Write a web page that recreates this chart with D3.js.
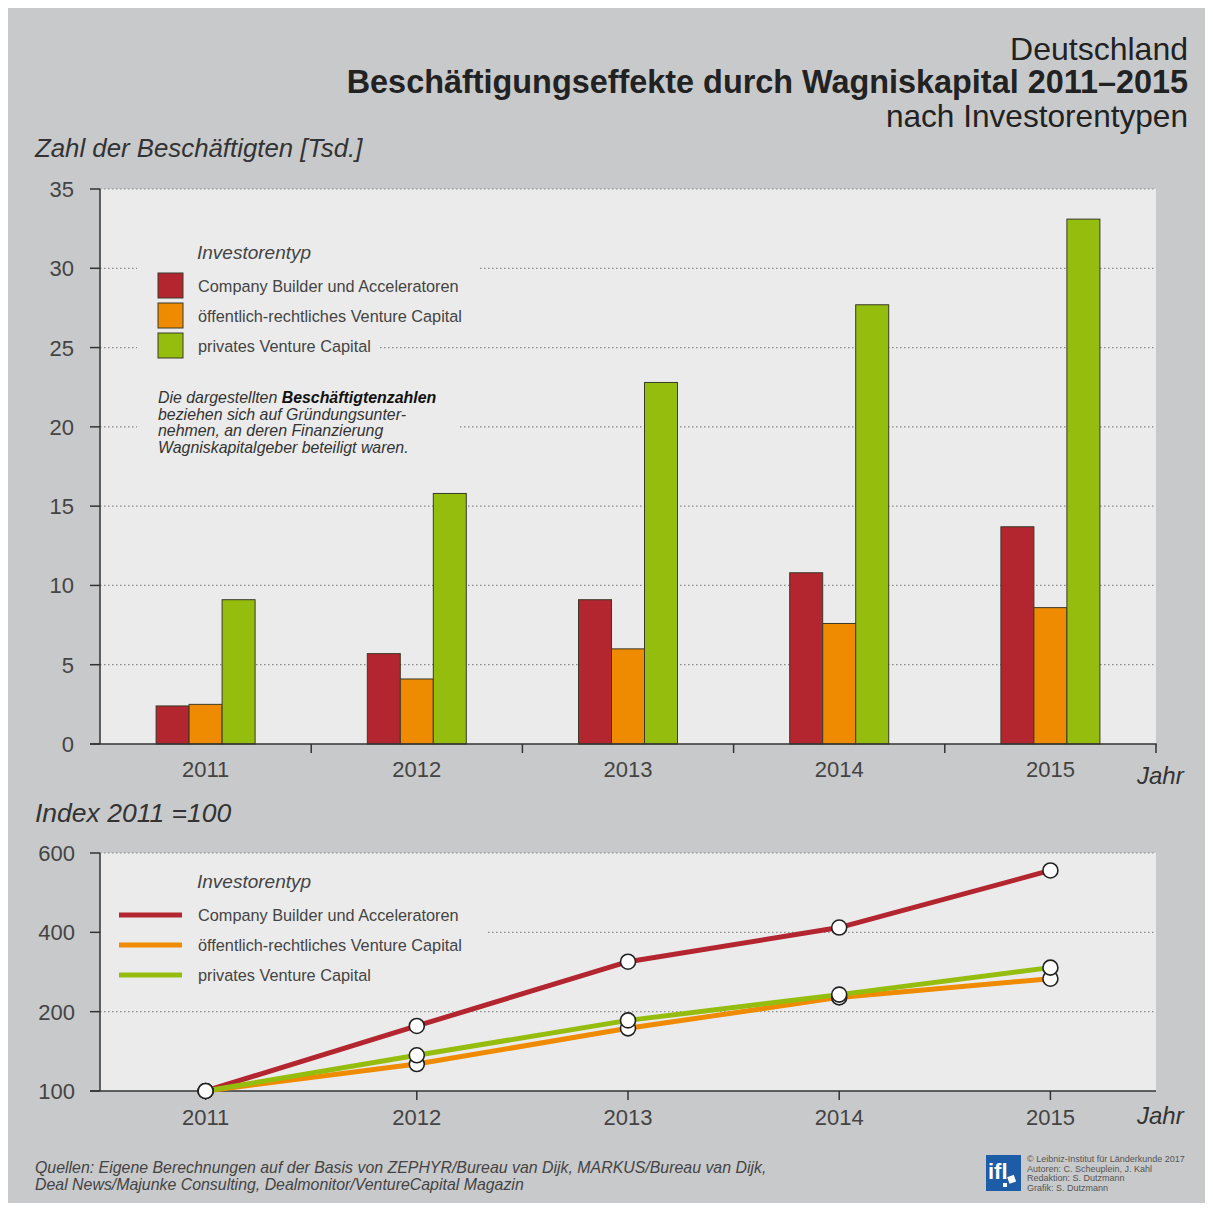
<!DOCTYPE html>
<html>
<head>
<meta charset="utf-8">
<script src="https://cdn.jsdelivr.net/npm/d3@7"></script>
<style>
  body { margin: 0; background: #fff; }
  svg { display: block; font-family: "Liberation Sans", Arial, sans-serif; }
</style>
</head>
<body>
<svg id="chart" width="1213" height="1211"></svg>
<script>
// Daten
const years = ["2011", "2012", "2013", "2014", "2015"];
const seriesNames = [
  "Company Builder und Acceleratoren",
  "öffentlich-rechtliches Venture Capital",
  "privates Venture Capital"
];
const seriesColors = ["#b3262f", "#ee8b00", "#95bd0e"];

// Beschäftigte [Tsd.]
const builderValues = [2.4, 5.7, 9.1, 10.8, 13.7];
const publicValues = [2.5, 4.1, 6.0, 7.6, 8.6];
const privateValues = [9.1, 15.8, 22.8, 27.7, 33.1];

// Index 2011 = 100
const builderIndex = [100, 182, 326, 412, 556];
const publicIndex = [100, 134, 179, 236, 283];
const privateIndex = [100, 145, 189, 243, 311];

const barTicks = [0, 5, 10, 15, 20, 25, 30, 35];
const indexTicks = [100, 200, 400, 600];

const svg = d3.select("#chart");
const W = 1213, H = 1211;
const plotBg = "#ebebeb";

svg.append("rect").attr("x", 8).attr("y", 8).attr("width", W - 16).attr("height", H - 16)
  .attr("fill", "#c8c9cb");

// Titel
const title = svg.append("g").attr("text-anchor", "end").attr("fill", "#222");
title.append("text").attr("x", 1188).attr("y", 60).style("font-size", "32px").text("Deutschland");
title.append("text").attr("x", 1188).attr("y", 93).style("font-size", "32.4px").style("font-weight", "bold")
  .attr("class", "fit").attr("data-w", 842)
  .text("Beschäftigungseffekte durch Wagniskapital 2011–2015");
title.append("text").attr("x", 1188).attr("y", 127).style("font-size", "31.6px").text("nach Investorentypen");

// ---------- Balkendiagramm ----------
const top1 = { left: 100, right: 1156, top: 189, bottom: 744 };

const x0 = d3.scaleBand().domain(years).range([top1.left, top1.right]).padding(0);
const barW = 33;
const x1 = d3.scaleBand().domain(seriesNames).range([-barW * 1.5, barW * 1.5]);
const y = d3.scaleLinear().domain([0, 35]).range([top1.bottom, top1.top]);

svg.append("rect").attr("x", top1.left).attr("y", top1.top)
  .attr("width", top1.right - top1.left).attr("height", top1.bottom - top1.top).attr("fill", plotBg);

svg.append("g").selectAll("line").data(barTicks.filter(d => d > 0)).join("line")
  .attr("x1", top1.left).attr("x2", top1.right)
  .attr("y1", d => y(d)).attr("y2", d => y(d))
  .attr("stroke", "#8a8a8a").attr("stroke-width", 1.2).attr("stroke-dasharray", "1.5,2.5");

// Gitterlinien hinter der Legende ausblenden
const knock1 = [[30, 137, 478], [25, 137, 378], [20, 137, 460]];
svg.append("g").selectAll("rect").data(knock1).join("rect")
  .attr("x", d => d[1]).attr("width", d => d[2] - d[1])
  .attr("y", d => y(d[0]) - 3).attr("height", 6).attr("fill", plotBg);

const barData = years.map((yr, i) => ({
  year: yr,
  values: [builderValues[i], publicValues[i], privateValues[i]]
}));

svg.append("g").selectAll("g").data(barData).join("g")
  .attr("transform", d => `translate(${x0(d.year) + x0.bandwidth() / 2},0)`)
  .selectAll("rect").data(d => d.values.map((v, j) => ({ v, j }))).join("rect")
  .attr("x", d => x1(seriesNames[d.j])).attr("width", barW)
  .attr("y", d => y(d.v)).attr("height", d => y(0) - y(d.v))
  .attr("fill", d => seriesColors[d.j]).attr("stroke", "#3a3a2a").attr("stroke-width", 1);

// Achsen
const axisColor = "#333";
svg.append("line").attr("x1", top1.left).attr("x2", top1.left).attr("y1", top1.top).attr("y2", top1.bottom)
  .attr("stroke", axisColor).attr("stroke-width", 1.5);
svg.append("line").attr("x1", 90).attr("x2", top1.right + 0.75).attr("y1", top1.bottom).attr("y2", top1.bottom)
  .attr("stroke", axisColor).attr("stroke-width", 1.5);

svg.append("g").selectAll("line").data(barTicks).join("line")
  .attr("x1", 90).attr("x2", top1.left).attr("y1", d => y(d)).attr("y2", d => y(d))
  .attr("stroke", axisColor).attr("stroke-width", 1.5);
svg.append("g").selectAll("text").data(barTicks).join("text")
  .attr("x", 74).attr("y", d => y(d) + 8).attr("text-anchor", "end")
  .attr("fill", "#444").style("font-size", "22px").text(d => d);

svg.append("g").selectAll("line").data(years).join("line")
  .attr("x1", d => x0(d) + x0.bandwidth()).attr("x2", d => x0(d) + x0.bandwidth())
  .attr("y1", top1.bottom).attr("y2", top1.bottom + 9)
  .attr("stroke", axisColor).attr("stroke-width", 1.5);
svg.append("g").selectAll("text").data(years).join("text")
  .attr("x", d => x0(d) + x0.bandwidth() / 2).attr("y", 777).attr("text-anchor", "middle")
  .attr("fill", "#444").style("font-size", "22px").text(d => d);

svg.append("text").attr("x", 35).attr("y", 157).attr("fill", "#333")
  .style("font-size", "25.8px").style("font-style", "italic").text("Zahl der Beschäftigten [Tsd.]");
svg.append("text").attr("x", 1137).attr("y", 784).attr("fill", "#333")
  .style("font-size", "24px").style("font-style", "italic").text("Jahr");

// Legende oben
const leg1 = svg.append("g");
leg1.append("text").attr("x", 197).attr("y", 259).attr("fill", "#444")
  .style("font-size", "19px").style("font-style", "italic").text("Investorentyp");
seriesNames.forEach((name, i) => {
  leg1.append("rect").attr("x", 158).attr("y", 273 + i * 30).attr("width", 25).attr("height", 25)
    .attr("fill", seriesColors[i]).attr("stroke", "#3a3a2a").attr("stroke-width", 1);
  leg1.append("text").attr("x", 198).attr("y", 292 + i * 30).attr("fill", "#444")
    .style("font-size", "16.3px").text(name);
});

const note = svg.append("text").attr("x", 158).attr("fill", "#333")
  .style("font-size", "15.9px").style("font-style", "italic");
const noteLines = [
  ["Die dargestellten ", "Beschäftigtenzahlen"],
  ["beziehen sich auf Gründungsunter-"],
  ["nehmen, an deren Finanzierung"],
  ["Wagniskapitalgeber beteiligt waren."]
];
noteLines.forEach((parts, i) => {
  note.append("tspan").attr("x", 158).attr("y", 403 + i * 16.5).text(parts[0]);
  if (parts[1]) note.append("tspan").style("font-weight", "bold").attr("fill", "#111").text(parts[1]);
});

// ---------- Indexdiagramm ----------
const bot = { left: 100, right: 1156, top: 853, bottom: 1091 };
const xp = d3.scalePoint().domain(years).range([x0("2011") + x0.bandwidth() / 2, x0("2015") + x0.bandwidth() / 2]);
const step = (bot.bottom - bot.top) / 3;
const yi = d3.scaleLinear().domain(indexTicks)
  .range(indexTicks.map((d, i) => bot.bottom - i * step));

svg.append("rect").attr("x", bot.left).attr("y", bot.top)
  .attr("width", bot.right - bot.left).attr("height", bot.bottom - bot.top).attr("fill", plotBg);

svg.append("g").selectAll("line").data(indexTicks.slice(1)).join("line")
  .attr("x1", bot.left).attr("x2", bot.right)
  .attr("y1", d => yi(d)).attr("y2", d => yi(d))
  .attr("stroke", "#8a8a8a").attr("stroke-width", 1.2).attr("stroke-dasharray", "1.5,2.5");
svg.append("rect").attr("x", bot.left + 1).attr("width", 385)
  .attr("y", yi(400) - 3).attr("height", 6).attr("fill", plotBg);

const indexSeries = [builderIndex, publicIndex, privateIndex];
const line = d3.line().x((d, i) => xp(years[i])).y(d => yi(d));

svg.append("line").attr("x1", bot.left).attr("x2", bot.left).attr("y1", bot.top).attr("y2", bot.bottom)
  .attr("stroke", axisColor).attr("stroke-width", 1.5);
svg.append("line").attr("x1", 90).attr("x2", bot.right).attr("y1", bot.bottom).attr("y2", bot.bottom)
  .attr("stroke", axisColor).attr("stroke-width", 1.5);
svg.append("g").selectAll("line").data(indexTicks).join("line")
  .attr("x1", 90).attr("x2", bot.left).attr("y1", d => yi(d)).attr("y2", d => yi(d))
  .attr("stroke", axisColor).attr("stroke-width", 1.5);
svg.append("g").selectAll("text").data(indexTicks).join("text")
  .attr("x", 75).attr("y", d => yi(d) + 8).attr("text-anchor", "end")
  .attr("fill", "#444").style("font-size", "22px").text(d => d);
svg.append("g").selectAll("line").data(years).join("line")
  .attr("x1", d => xp(d)).attr("x2", d => xp(d))
  .attr("y1", bot.bottom).attr("y2", bot.bottom + 9)
  .attr("stroke", axisColor).attr("stroke-width", 1.5);
svg.append("g").selectAll("text").data(years).join("text")
  .attr("x", d => xp(d)).attr("y", 1125).attr("text-anchor", "middle")
  .attr("fill", "#444").style("font-size", "22px").text(d => d);

svg.append("text").attr("x", 35).attr("y", 822).attr("fill", "#333")
  .style("font-size", "26.5px").style("font-style", "italic").text("Index 2011 =100");
svg.append("text").attr("x", 1137).attr("y", 1124).attr("fill", "#333")
  .style("font-size", "24px").style("font-style", "italic").text("Jahr");

svg.append("g").selectAll("path").data(indexSeries).join("path")
  .attr("d", line).attr("fill", "none")
  .attr("stroke", (d, i) => seriesColors[i]).attr("stroke-width", 5)
  .attr("stroke-linejoin", "round");

indexSeries.forEach((s) => {
  svg.append("g").selectAll("circle").data(s).join("circle")
    .attr("cx", (d, i) => xp(years[i])).attr("cy", d => yi(d)).attr("r", 7.5)
    .attr("fill", "#fff").attr("stroke", "#222").attr("stroke-width", 1.6);
});

// Legende unten
const leg2 = svg.append("g");
leg2.append("text").attr("x", 197).attr("y", 888).attr("fill", "#444")
  .style("font-size", "19px").style("font-style", "italic").text("Investorentyp");
seriesNames.forEach((name, i) => {
  leg2.append("line").attr("x1", 119).attr("x2", 182).attr("y1", 915 + i * 30).attr("y2", 915 + i * 30)
    .attr("stroke", seriesColors[i]).attr("stroke-width", 5);
  leg2.append("text").attr("x", 198).attr("y", 921 + i * 30).attr("fill", "#444")
    .style("font-size", "16.3px").text(name);
});

// Quellen
const src = svg.append("text").attr("fill", "#444").style("font-size", "15.9px").style("font-style", "italic");
src.append("tspan").attr("x", 35).attr("y", 1173)
  .text("Quellen: Eigene Berechnungen auf der Basis von ZEPHYR/Bureau van Dijk, MARKUS/Bureau van Dijk,");
src.append("tspan").attr("x", 35).attr("y", 1190)
  .text("Deal News/Majunke Consulting, Dealmonitor/VentureCapital Magazin");

// Logo
const logo = svg.append("g");
logo.append("rect").attr("x", 986).attr("y", 1155).attr("width", 35).attr("height", 36).attr("fill", "#1d5ca6");
logo.append("text").attr("x", 988).attr("y", 1179).attr("fill", "#fff")
  .style("font-size", "22px").style("font-weight", "bold").text("ifl");
logo.append("rect").attr("x", 1008).attr("y", 1176).attr("width", 7).attr("height", 7).attr("fill", "#fff")
  .attr("transform", "rotate(-20 1011 1179)");
logo.append("rect").attr("x", 1003).attr("y", 1183).attr("width", 4).attr("height", 4).attr("fill", "#fff");
const credits = [
  "© Leibniz-Institut für Länderkunde 2017",
  "Autoren: C. Scheuplein, J. Kahl",
  "Redaktion: S. Dutzmann",
  "Grafik: S. Dutzmann"
];
logo.append("g").selectAll("text").data(credits).join("text")
  .attr("x", 1027).attr("y", (d, i) => 1162 + i * 9.5).attr("fill", "#555")
  .style("font-size", "9px").text(d => d);

// Breite anpassen
svg.selectAll(".fit").each(function () {
  const w = +this.getAttribute("data-w");
  const len = this.getComputedTextLength();
  if (len > w) d3.select(this).attr("textLength", w).attr("lengthAdjust", "spacingAndGlyphs");
});
</script>
</body>
</html>
